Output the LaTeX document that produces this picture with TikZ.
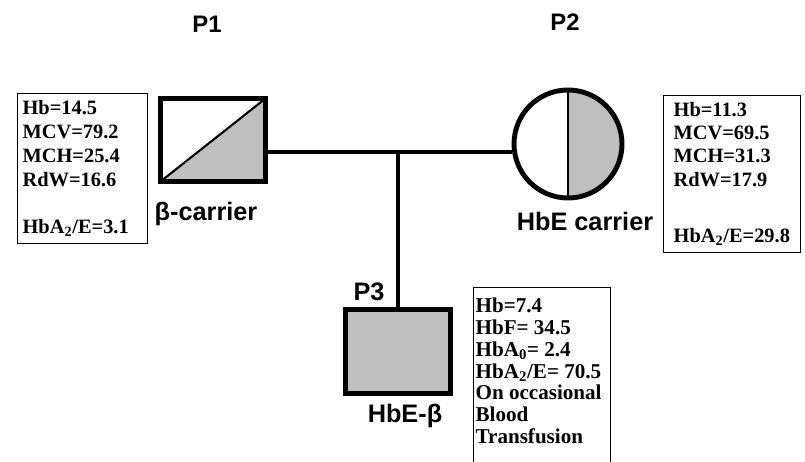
\documentclass[tikz,border=0pt]{standalone}
\usepackage{fontspec}
\setmainfont{Liberation Serif}
\newfontfamily\labelfont{Liberation Sans}
\usetikzlibrary{positioning}
\definecolor{Shade}{HTML}{BFBFBF}

\begin{document}
\begin{tikzpicture}[
  male/.style={draw,line width=3.5pt,minimum width=2.625cm,minimum height=2.075cm,inner sep=0pt},
  female/.style={draw,circle,line width=3.5pt,minimum size=2.7cm,inner sep=0pt},
  note/.style={draw,line width=0.9pt,anchor=north west,align=left,inner ysep=0pt,font=\fontsize{14.5}{17}\selectfont\bfseries},
  tag/.style={font=\labelfont\fontsize{18}{21}\selectfont\bfseries},
  lnk/.style={line width=2.8pt}
]
\clip (0,0) rectangle (20.125,11.55);
\node[male,path picture={
  \fill[Shade] (path picture bounding box.south west) -- (path picture bounding box.south east) -- (path picture bounding box.north east) -- cycle;
  \draw[line width=1.5pt] (path picture bounding box.south west) -- (path picture bounding box.north east);}] (p1) at (5.325,8.05) {};
\node[female,path picture={
  \fill[Shade] (path picture bounding box.north) rectangle (path picture bounding box.south east);
  \draw[line width=2pt] (path picture bounding box.north) -- (path picture bounding box.south);}] (p2) at (14.2,7.95) {};
\node[male,fill=Shade,minimum height=2.1cm] (p3) at (9.95,2.7625) {};
\coordinate (mate) at (9.95,7.75);
\draw[lnk] (p1.east |- mate) -- (p2.west |- mate);
\draw[lnk] (mate) -- (p3);
\node[tag,font=\labelfont\fontsize{17}{20}\selectfont\bfseries] (p1tag) at (5.175,10.95) {P1};
\node[tag,font=\labelfont\fontsize{17}{20}\selectfont\bfseries] (p2tag) at (14.125,11.0) {P2};
\node[tag] (p3tag) at (9.225,4.25) {P3};
\node[tag] (p1kind) at (5.15,6.2) {β-carrier};
\node[tag] (p2kind) at (14.625,6.025) {HbE carrier};
\node[tag] (p3kind) at (10.125,1.15) {HbE-β};
\node[note,text width=3.0cm,inner xsep=0.125cm,minimum height=3.75cm] (p1note) at (0.425,9.225)
  {Hb=14.5\\MCV=79.2\\MCH=25.4\\RdW=16.6\\[17pt]HbA\textsubscript{2}/E=3.1};
\node[note,text width=2.925cm,inner xsep=0.25cm,minimum height=3.925cm,font=\fontsize{14.5}{16.5}\selectfont\bfseries] (p2note) at (16.575,9.175)
  {Hb=11.3\\MCV=69.5\\MCH=31.3\\RdW=17.9\\[24pt]HbA\textsubscript{2}/E=29.8};
\node[note,inner xsep=0.05cm,inner ysep=0.26cm,font=\fontsize{15}{15.5}\selectfont\bfseries] (p3note) at (11.825,4.375)
  {\parbox[t][4.6cm][t]{3.325cm}{\raggedright Hb=7.4\\HbF= 34.5\\HbA\textsubscript{0}= 2.4\\HbA\textsubscript{2}/E= 70.5\\On occasional\\Blood\\Transfusion}};
\end{tikzpicture}
\end{document}
